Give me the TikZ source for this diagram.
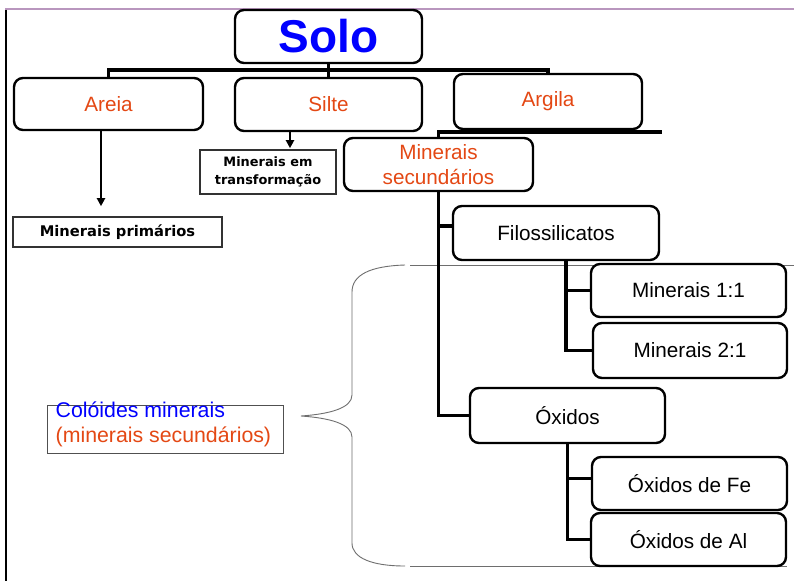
\documentclass[tikz,border=0pt]{standalone}
\usepackage{fontspec}
\setmainfont{Liberation Sans}
\newfontfamily\boldsans{DejaVu Sans}
\usetikzlibrary{arrows.meta}
\pgfdeclarelayer{back}
\pgfsetlayers{back,main}
\definecolor{soilorange}{RGB}{228,72,20}
\definecolor{soilblue}{RGB}{0,0,255}
\definecolor{framepink}{RGB}{185,150,190}
\definecolor{bracegray}{RGB}{110,110,110}
\begin{document}
\begin{tikzpicture}[x=1pt,y=-1pt,
  rbox/.style={draw=black, line width=2.4pt, rounded corners=9pt, fill=white,
    inner sep=0pt, align=center, font=\fontsize{20.7}{25}\selectfont},
  sqbox/.style={draw={rgb,255:red,50;green,50;blue,50}, line width=1.6pt, fill=white,
    inner sep=0pt, align=center},
  conn/.style={draw=black, line width=3.2pt, line cap=rect},
  arr/.style={draw=black, line width=2pt, -{Triangle[length=8pt,width=8pt]}},
  thin/.style={draw=bracegray, line width=0.9pt}]
\useasboundingbox (0,0) rectangle (794,581);

% helper coordinates
\coordinate (bus) at (0,70);
\coordinate (abus) at (660,132);
\coordinate (ax1) at (101,0);
\coordinate (ax2) at (290,0);

% top level
\node[rbox, minimum width=187pt, minimum height=53pt, font=\fontsize{46}{50}\selectfont\bfseries, text=soilblue]
  (solo) at (328.5,36.5) {Solo};
\node[rbox, minimum width=189pt, minimum height=52pt, text=soilorange] (areia) at (108.5,104) {Areia};
\node[rbox, minimum width=187pt, minimum height=53pt, text=soilorange] (silte) at (328.5,104.5) {Silte};
\node[rbox, minimum width=188pt, minimum height=55pt, text=soilorange] (argila) at (548,101.5) {Argila};

% clay branch
\node[rbox, minimum width=189pt, minimum height=53pt, text=soilorange] (minsec) at (438.5,164.5)
  {Minerais\\secundários};
\node[rbox, minimum width=206pt, minimum height=54pt] (filo) at (556,233) {Filossilicatos};
\node[rbox, minimum width=195pt, minimum height=53pt] (m11) at (688.5,290.5) {Minerais 1:1};
\node[rbox, minimum width=194pt, minimum height=55pt] (m21) at (690,350.5) {Minerais 2:1};
\node[rbox, minimum width=195pt, minimum height=55pt] (oxi) at (567.5,415.5) {Óxidos};
\node[rbox, minimum width=195pt, minimum height=53pt] (oxfe) at (689.5,483.5) {Óxidos de Fe};
\node[rbox, minimum width=195pt, minimum height=53pt] (oxal) at (688.5,539.5) {Óxidos de Al};

% sand and silt minerals
\node[sqbox, minimum width=209pt, minimum height=30pt, font=\boldsans\bfseries\fontsize{14.7}{17}\selectfont]
  (mp) at (117.5,232) {Minerais primários};
\node[sqbox, minimum width=136pt, minimum height=44pt, font=\boldsans\bfseries\fontsize{12.9}{18}\selectfont]
  (mt) at (268,172) {Minerais em\\transformação};

% colloid label
\node[draw={rgb,255:red,80;green,80;blue,80}, line width=1pt, minimum width=236pt, minimum height=48pt, inner sep=0pt]
  (col) at (165,429) {};
\node[anchor=base west, inner sep=0pt, align=left, font=\fontsize{21.3}{25}\selectfont]
  (coltext) at ([xshift=9pt,yshift=-38pt]col.north west)
  {\textcolor{soilblue}{Colóides minerais}\\\textcolor{soilorange}{(minerais secundários)}};

\coordinate (filoin) at ([yshift=7pt]filo.west);
\coordinate (filoout) at ([xshift=10pt]filo.south);
\coordinate (oxfein) at ([yshift=5pt]oxfe.west);

\begin{pgfonlayer}{back}
\fill[white] (0,0) rectangle (794,581);
% page frame
\draw[framepink, line width=1.6pt] (5,9) -- (794,9);
\draw[black, line width=1.4pt] (6,9.5) -- (6,581);

% guide lines and brace
\draw[thin] (410,265) -- (794,265);
\draw[thin] (410,566) -- (787,566);
\draw[thin] (405,265) .. controls (370,266) and (352,275) .. (352,292)
  -- (352,395) .. controls (352,408) and (330,414) .. (301,416)
  .. controls (330,418) and (352,424) .. (352,437)
  -- (352,543) .. controls (352,558) and (372,566) .. (405,566);

% connectors
\draw[conn] (areia.north) -- (areia.north |- bus) -- (argila.north |- bus) -- (argila.north);
\draw[conn] (solo.south) -- (silte.north);
\draw[conn] (argila.south) -- (argila.south |- abus);
\draw[conn] (minsec.north) -- (minsec.north |- abus) -- (abus);
\draw[conn] (minsec.south) |- (oxi.west);
\draw[conn] (minsec.south |- filoin) -- (filoin);
\draw[conn] (filoout) |- (m21.west);
\draw[conn] (filoout) |- (m11.west);
\draw[conn] (oxi.south) |- (oxal.west);
\draw[conn] (oxi.south) |- (oxfein);
\end{pgfonlayer}

\draw[arr, shorten >=10pt] (areia.south -| ax1) -- (mp.north -| ax1);
\draw[arr, shorten >=1pt] (silte.south -| ax2) -- (mt.north -| ax2);
\end{tikzpicture}
\end{document}
